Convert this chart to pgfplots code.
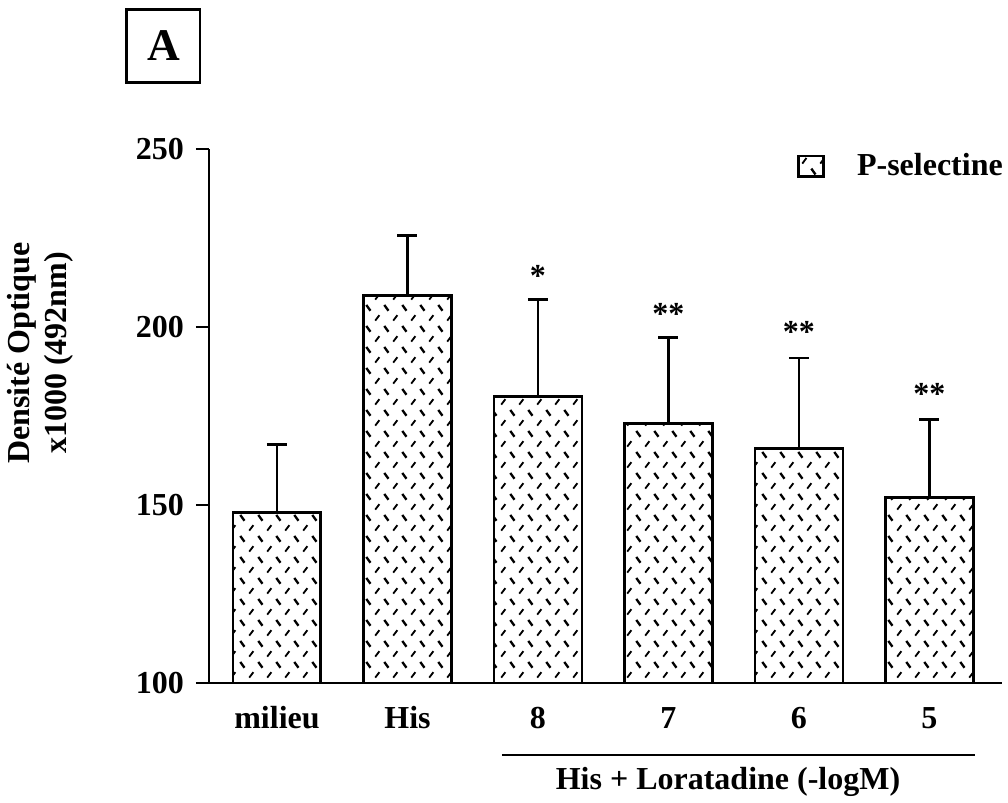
\documentclass[border=0pt]{standalone}
\usepackage{fontspec}
\setmainfont{Liberation Serif}
\usepackage{pgfplots}
\pgfplotsset{compat=1.18}
\usetikzlibrary{patterns}

% fill of the bars: rows of short back-slashes and slashes, offset by half a tile
\pgfdeclarepatternformonly{dashzig}{\pgfpointorigin}{\pgfpoint{6.9pt}{7.7pt}}{\pgfpoint{6.9pt}{7.7pt}}{%
  \pgfsetlinewidth{0.9pt}%
  \pgfpathmoveto{\pgfpoint{0.9pt}{6.9pt}}\pgfpathlineto{\pgfpoint{2.5pt}{4.7pt}}%
  \pgfusepath{stroke}%
  \pgfsetlinewidth{0.7pt}%
  \pgfpathmoveto{\pgfpoint{4.35pt}{0.9pt}}\pgfpathlineto{\pgfpoint{5.95pt}{3.0pt}}%
  \pgfusepath{stroke}%
}

% x: category index, y: optical density, e: upper error
\pgfplotstableread{
x y e
0 148.0 19.0
1 208.8 17.0
2 180.6 27.0
3 173.0 24.0
4 166.0 25.3
5 152.0 22.0
}\selectine

\begin{document}
\begin{tikzpicture}[font=\fontsize{12}{14}\selectfont\bfseries]
\useasboundingbox (-78.375pt,-45pt) rectangle (299.625pt,256.125pt);
\begin{axis}[
  at={(0,0)}, anchor=south west,
  scale only axis,
  width=297.4pt, height=200.25pt,
  xmin=-0.521, xmax=5.556,
  ymin=100, ymax=250,
  axis lines*=left,
  axis line style={line width=1.1pt,-},
  clip mode=individual,
  xtick=data,
  xticklabels={milieu,His,8,7,6,5},
  x tick style={draw=none},
  xticklabel style={anchor=base, yshift=-12.35pt},
  ytick={100,150,200,250},
  tick align=outside,
  y tick style={line width=1.1pt, black},
  major tick length=4.9pt,
  yticklabel style={anchor=east, xshift=-1pt},
  /pgf/number format/assume math mode=true,
  every axis y label/.style={at={(axis description cs:-0.213,0.618)}, rotate=90, anchor=center},
  ylabel style={align=center},
  ylabel={Densité Optique\\x1000 (492nm)},
  legend style={at={(rel axis cs:0.7415,0.968)}, anchor=west, draw=none, fill=none,
    inner sep=0pt, outer sep=0pt, column sep=12pt, nodes={inner sep=0pt}},
  legend cell align=left,
]
\addplot[ybar, bar width=0.674, draw=black, line width=1.1pt, pattern=dashzig,
  legend image code/.code={\draw[line width=1pt, pattern=dashzig] (0pt,-3.8pt) rectangle (9.5pt,3.8pt);},
  error bars/.cd, y dir=plus, y explicit,
  error bar style={line width=1.1pt, black},
  error mark options={rotate=90, mark size=3.75pt, line width=1.1pt, black}]
  table[x=x, y=y, y error=e] {\selectine};
\addlegendentry{P-selectine}

% significance marks
\node at (axis cs:2,214.3) {*};
\node at (axis cs:3,203.7) {**};
\node at (axis cs:4,198.6) {**};
\node at (axis cs:5,181.2) {**};

% bracket for the loratadine concentrations
\draw[line width=1.1pt] ([yshift=-27pt]axis cs:1.724,100) -- ([yshift=-27pt]axis cs:5.349,100);
\node[anchor=base] at ([yshift=-40.1pt]axis cs:3.456,100) {His + Loratadine (-logM)};

% panel letter
\node[draw, line width=1.1pt, minimum size=27.4pt, inner sep=0pt,
  font=\fontsize{17}{20}\selectfont\bfseries] at (rel axis cs:-0.0574,1.193) {A};
\end{axis}
\end{tikzpicture}
\end{document}
